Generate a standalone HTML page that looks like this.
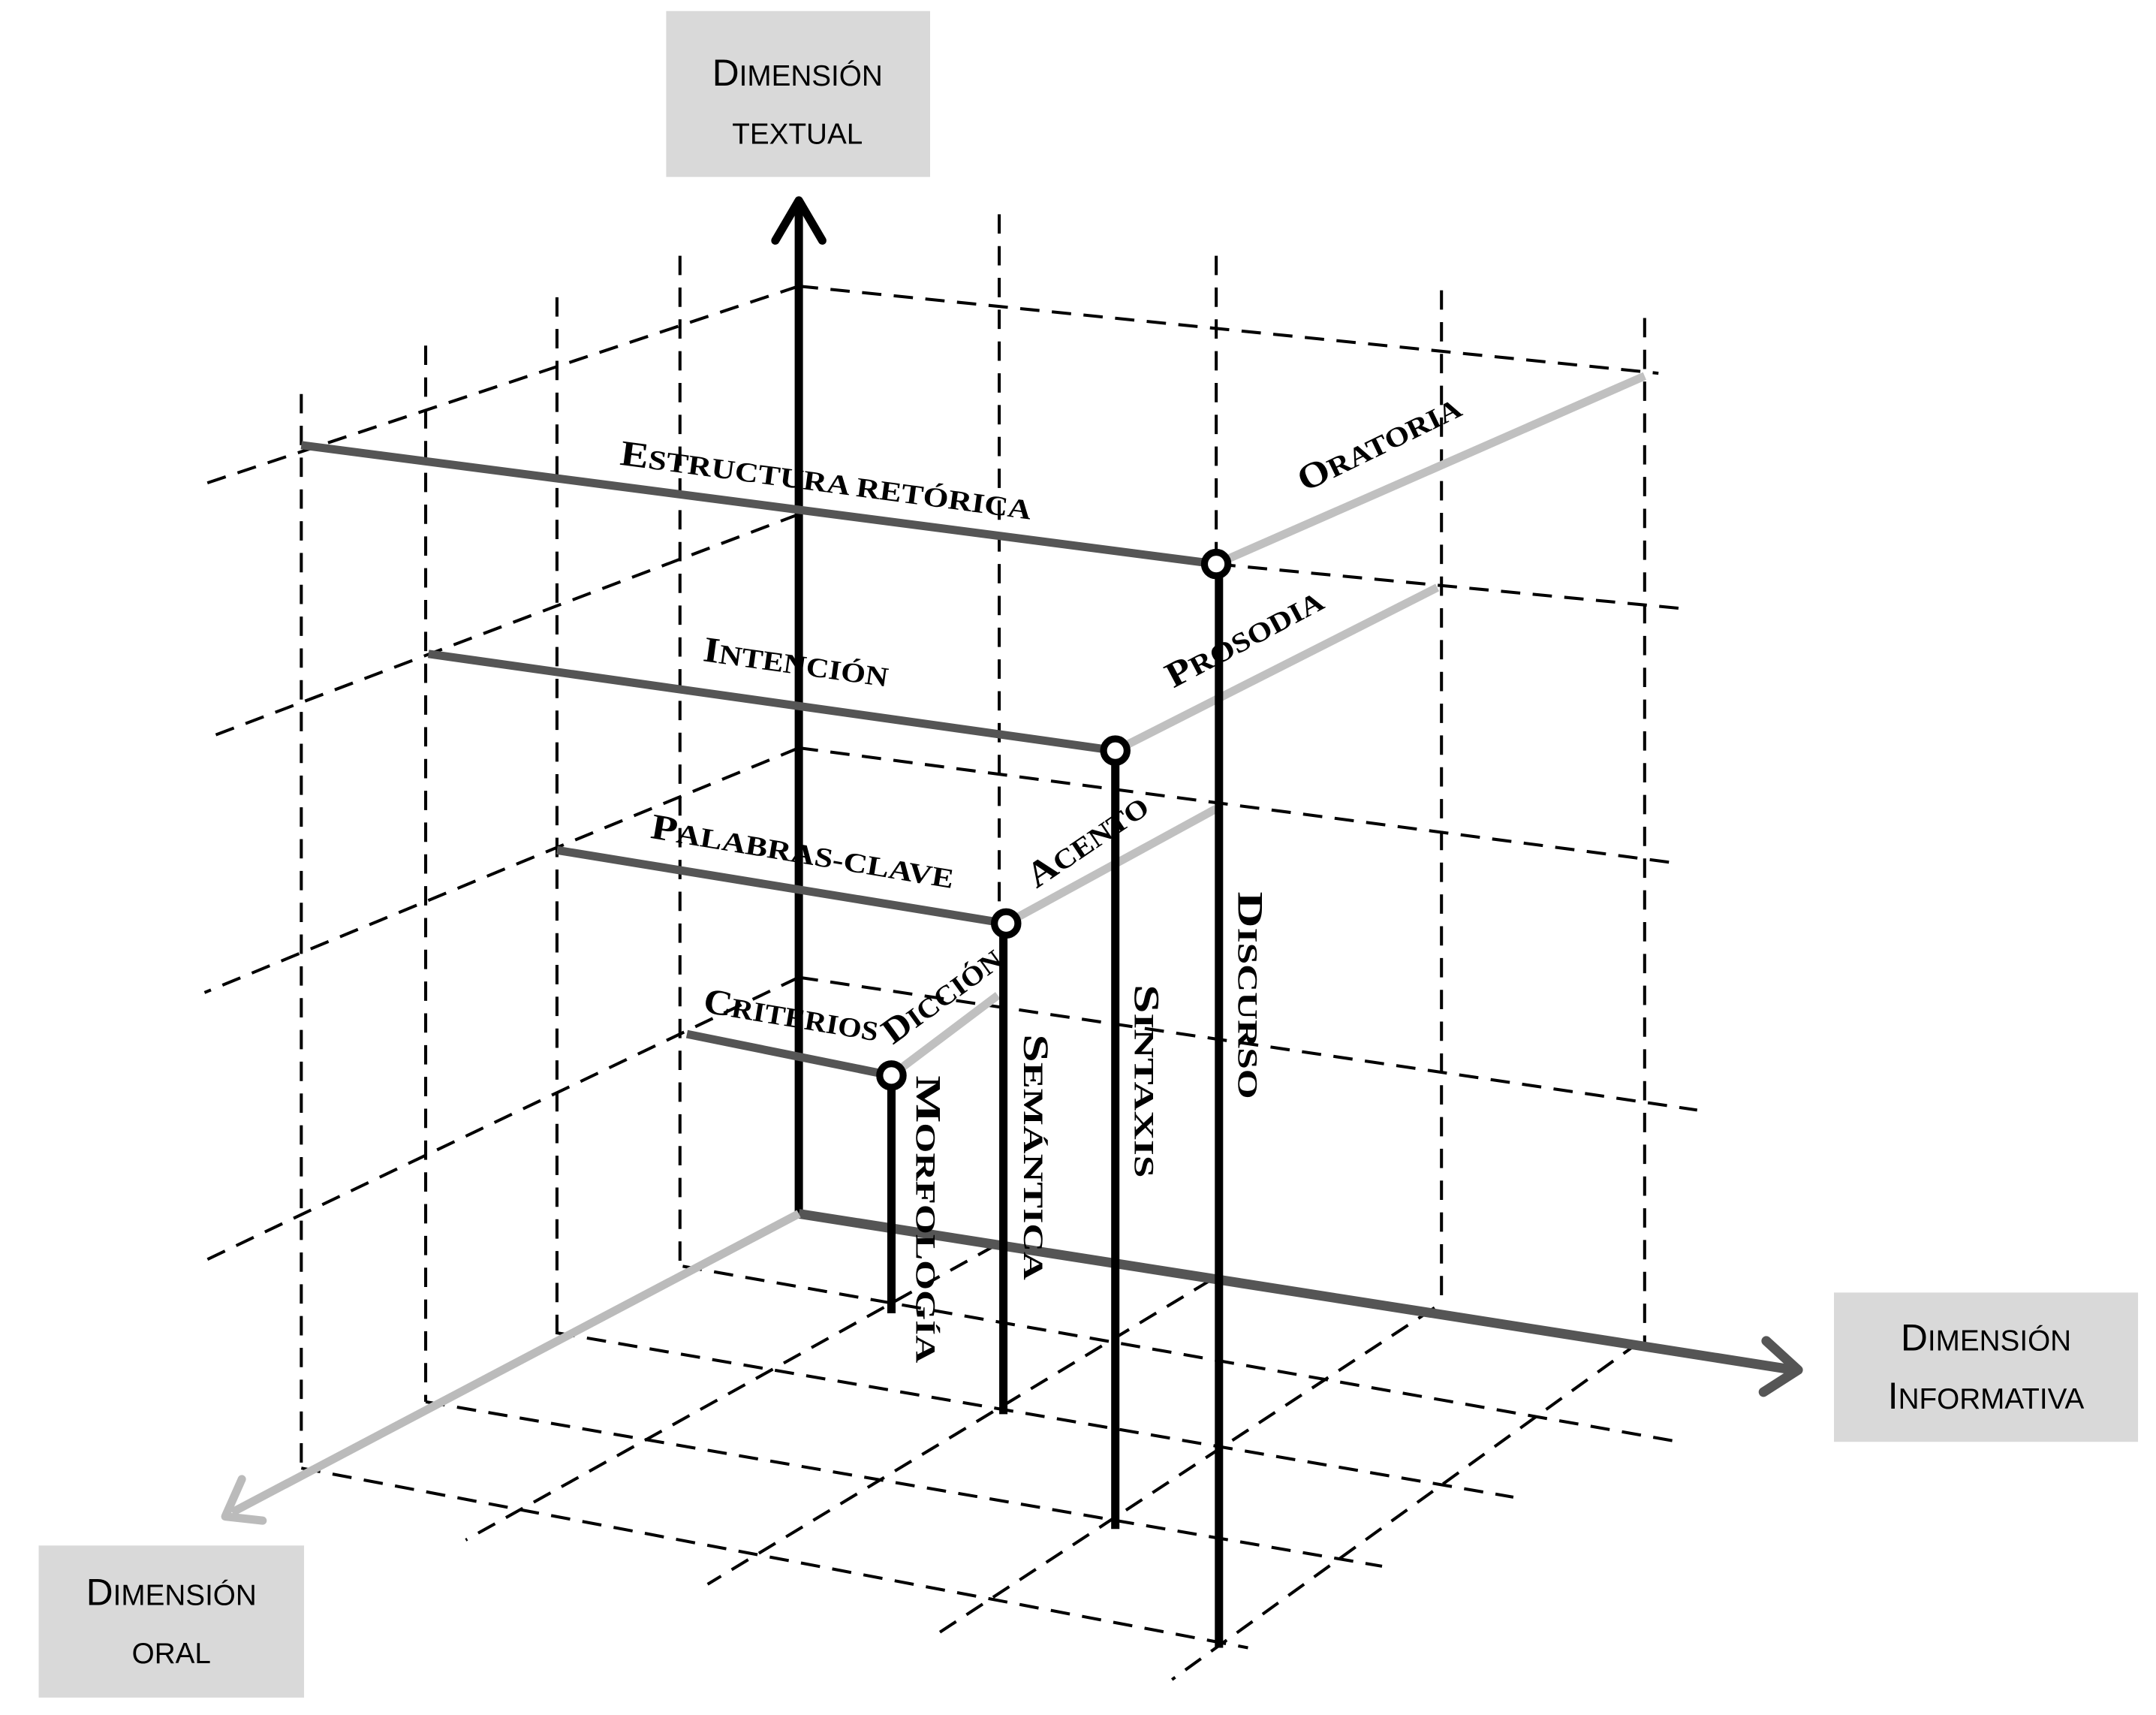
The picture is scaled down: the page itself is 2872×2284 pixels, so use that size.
<!DOCTYPE html>
<html><head><meta charset="utf-8"><style>
html,body{margin:0;padding:0;background:#fff;}
svg{display:block;}
.d{stroke:#000;stroke-width:2.2;stroke-dasharray:14 9;fill:none;}
.s{font-family:"Liberation Serif",serif;font-weight:bold;font-size:20px;fill:#000;}
.s .c{font-size:26px;}
.b{font-family:"Liberation Sans Narrow","Liberation Sans",sans-serif;font-size:21px;fill:#000;}
.b .c{font-size:27px;}
</style></head><body>
<svg width="2872" height="2284" viewBox="0 0 1560 1240.6" preserveAspectRatio="none" xmlns="http://www.w3.org/2000/svg">
<rect x="0" y="0" width="1560" height="1241" fill="#fff"/>
<!-- label boxes -->
<rect x="482" y="8" width="191" height="120" fill="#d9d9d9"/>
<text class="b" x="577" y="62" text-anchor="middle"><tspan class="c">D</tspan>IMENSIÓN</text>
<text class="b" x="577" y="104" text-anchor="middle">TEXTUAL</text>
<rect x="1327" y="935" width="220" height="108" fill="#d9d9d9"/>
<text class="b" x="1437" y="977" text-anchor="middle"><tspan class="c">D</tspan>IMENSIÓN</text>
<text class="b" x="1437" y="1019" text-anchor="middle"><tspan class="c">I</tspan>NFORMATIVA</text>
<rect x="28" y="1118" width="192" height="110" fill="#d9d9d9"/>
<text class="b" x="124" y="1161" text-anchor="middle"><tspan class="c">D</tspan>IMENSIÓN</text>
<text class="b" x="124" y="1203" text-anchor="middle">ORAL</text>

<!-- vertical dashed columns -->
<line class="d" x1="218" y1="285" x2="218" y2="1062"/>
<line class="d" x1="308" y1="250" x2="308" y2="1014"/>
<line class="d" x1="403" y1="215" x2="403" y2="964"/>
<line class="d" x1="492" y1="185" x2="492" y2="918"/>
<line class="d" x1="723" y1="155" x2="723" y2="670"/>
<line class="d" x1="880" y1="185" x2="880" y2="408"/>
<line class="d" x1="1043" y1="210" x2="1043" y2="946"/>
<line class="d" x1="1190" y1="230" x2="1190" y2="972"/>

<!-- left level lines -->
<line class="d" x1="578" y1="207" x2="148" y2="350"/>
<line class="d" x1="578" y1="372" x2="155" y2="532"/>
<line class="d" x1="578" y1="541" x2="148" y2="718"/>
<line class="d" x1="578" y1="707" x2="148" y2="912"/>
<!-- right level lines -->
<line class="d" x1="578" y1="207" x2="1200" y2="270"/>
<line class="d" x1="880" y1="408" x2="1215" y2="440"/>
<line class="d" x1="578" y1="541" x2="1210" y2="624"/>
<line class="d" x1="578" y1="707" x2="1228" y2="803"/>

<!-- floor lines -->
<line class="d" x1="494" y1="916" x2="1215" y2="1043"/>
<line class="d" x1="402" y1="964" x2="1095" y2="1083"/>
<line class="d" x1="308" y1="1014" x2="1000" y2="1133"/>
<line class="d" x1="218" y1="1062" x2="903" y2="1192"/>
<line class="d" x1="720" y1="901" x2="337" y2="1114"/>
<line class="d" x1="876" y1="926" x2="512" y2="1146"/>
<line class="d" x1="1038" y1="946" x2="675" y2="1184"/>
<line class="d" x1="1186" y1="971" x2="848" y2="1215"/>

<!-- axes -->
<line x1="578" y1="878" x2="578" y2="148" stroke="#000" stroke-width="6"/>
<polyline points="561,174 578,145 595,174" fill="none" stroke="#000" stroke-width="6" stroke-linecap="round" stroke-linejoin="round"/>
<line x1="578" y1="878" x2="1298" y2="991" stroke="#555" stroke-width="7"/>
<polyline points="1278,970 1301,991 1276,1007" fill="none" stroke="#555" stroke-width="7" stroke-linecap="round" stroke-linejoin="round"/>
<line x1="578" y1="878" x2="168" y2="1094" stroke="#bbb" stroke-width="6"/>
<polyline points="175,1070 163,1097 190,1100" fill="none" stroke="#bbb" stroke-width="6" stroke-linecap="round" stroke-linejoin="round"/>

<!-- dark horizontals -->
<line x1="218" y1="322" x2="880" y2="408" stroke="#555" stroke-width="6"/>
<line x1="310" y1="473" x2="807" y2="543" stroke="#555" stroke-width="6"/>
<line x1="403" y1="615" x2="728" y2="668" stroke="#555" stroke-width="6"/>
<line x1="497" y1="748" x2="645" y2="778" stroke="#555" stroke-width="6"/>
<!-- light diagonals -->
<line x1="880" y1="408" x2="1190" y2="272" stroke="#c0c0c0" stroke-width="6"/>
<line x1="807" y1="543" x2="1040" y2="425" stroke="#c0c0c0" stroke-width="6"/>
<line x1="728" y1="668" x2="880" y2="585" stroke="#c0c0c0" stroke-width="6"/>
<line x1="645" y1="778" x2="722" y2="720" stroke="#c0c0c0" stroke-width="6"/>

<!-- black verticals -->
<line x1="882" y1="408" x2="882" y2="1192" stroke="#000" stroke-width="6"/>
<line x1="807" y1="543" x2="807" y2="1106" stroke="#000" stroke-width="6"/>
<line x1="726" y1="668" x2="726" y2="1023" stroke="#000" stroke-width="6"/>
<line x1="645" y1="778" x2="645" y2="950" stroke="#000" stroke-width="6"/>

<!-- circles -->
<circle cx="880" cy="408" r="8.5" fill="#fff" stroke="#000" stroke-width="5"/>
<circle cx="807" cy="543" r="8.5" fill="#fff" stroke="#000" stroke-width="5"/>
<circle cx="728" cy="668" r="8.5" fill="#fff" stroke="#000" stroke-width="5"/>
<circle cx="645" cy="778" r="8.5" fill="#fff" stroke="#000" stroke-width="5"/>

<!-- labels -->
<text class="s" transform="translate(448,336) rotate(7.6)" textLength="300" lengthAdjust="spacingAndGlyphs"><tspan class="c">E</tspan>STRUCTURA RETÓRICA</text>
<text class="s" transform="translate(944,356) rotate(-26)" textLength="128" lengthAdjust="spacingAndGlyphs"><tspan class="c">O</tspan>RATORIA</text>
<text class="s" transform="translate(508,478) rotate(8)" textLength="135" lengthAdjust="spacingAndGlyphs"><tspan class="c">I</tspan>NTENCIÓN</text>
<text class="s" transform="translate(849,498) rotate(-28)" textLength="125" lengthAdjust="spacingAndGlyphs"><tspan class="c">P</tspan>ROSODIA</text>
<text class="s" transform="translate(470,606) rotate(9.5)" textLength="222" lengthAdjust="spacingAndGlyphs"><tspan class="c">P</tspan>ALABRAS-CLAVE</text>
<text class="s" transform="translate(750,643) rotate(-34)" textLength="100" lengthAdjust="spacingAndGlyphs"><tspan class="c">A</tspan>CENTO</text>
<text class="s" transform="translate(508,732) rotate(9.5)" textLength="128" lengthAdjust="spacingAndGlyphs"><tspan class="c">C</tspan>RITERIOS</text>
<text class="s" transform="translate(646,756) rotate(-36)" textLength="100" lengthAdjust="spacingAndGlyphs"><tspan class="c">D</tspan>ICCIÓN</text>
<text class="s" transform="translate(663,778) rotate(90)" textLength="208" lengthAdjust="spacingAndGlyphs"><tspan class="c">M</tspan>ORFOLOGÍA</text>
<text class="s" transform="translate(741,748) rotate(90)" textLength="178" lengthAdjust="spacingAndGlyphs"><tspan class="c">S</tspan>EMÁNTICA</text>
<text class="s" transform="translate(821,712) rotate(90)" textLength="140" lengthAdjust="spacingAndGlyphs"><tspan class="c">S</tspan>INTAXIS</text>
<text class="s" transform="translate(896,645) rotate(90)" textLength="150" lengthAdjust="spacingAndGlyphs"><tspan class="c">D</tspan>ISCURSO</text>
</svg>
</body></html>
